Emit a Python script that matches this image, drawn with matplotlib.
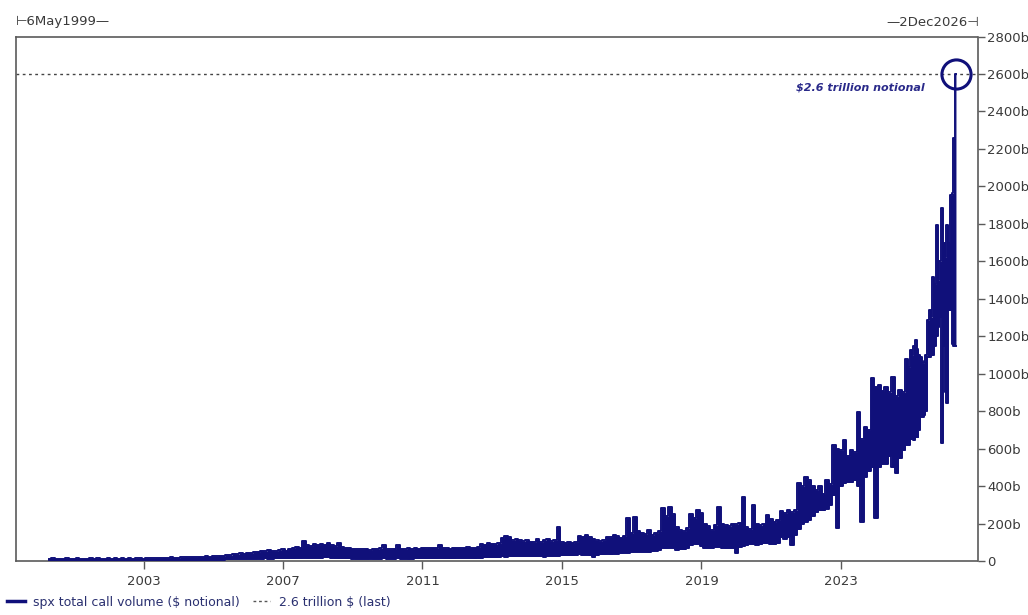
import numpy as np
import matplotlib
matplotlib.use("Agg")
import matplotlib.pyplot as plt
from matplotlib.lines import Line2D

# ---------------- data (billions of $ notional) ----------------
# The daily series is drawn as its period high (upper) and period low (lower),
# sampled every 0.1 year from 2000.3, then every 0.05 year at the end.
grid_start = 2000.3
grid_step = 0.1
upper_2000_2010 = [
    12, 14, 11, 13, 12, 15, 12, 13, 14, 12,
    13, 12, 15, 12, 14, 13, 12, 15, 13, 14,
    12, 14, 13, 16, 13, 14, 15, 13, 16, 15,
    15, 17, 16, 18, 17, 19, 18, 17, 19, 20,
    20, 22, 21, 24, 22, 25, 24, 26, 25, 28,
    28, 32, 30, 38, 35, 42, 40, 45, 43, 48,
    50, 55, 52, 60, 55, 52, 58, 62, 56, 65,
    70, 75, 72, 108, 85, 80, 90, 85, 92, 88,
    95, 85, 80, 96, 75, 70, 68, 65, 63, 62,
    62, 66, 60, 64, 62, 68, 85, 64, 62, 66,
]
lower_2000_2010 = [
    3, 4, 3, 4, 3, 4, 3, 4, 3, 4,
    4, 3, 4, 3, 4, 3, 4, 3, 4, 4,
    4, 3, 4, 4, 4, 5, 4, 4, 5, 5,
    5, 4, 5, 5, 5, 5, 6, 5, 6, 6,
    6, 5, 6, 6, 7, 7, 7, 7, 8, 8,
    8, 9, 9, 10, 10, 11, 11, 12, 12, 12,
    13, 12, 14, 13, 13, 14, 14, 15, 15, 15,
    15, 16, 16, 18, 17, 17, 18, 18, 18, 19,
    20, 18, 16, 15, 15, 14, 14, 13, 12, 12,
    12, 12, 13, 12, 12, 13, 14, 13, 13, 13,
]
upper_2010_2020 = [
    85, 66, 62, 68, 64, 70, 66, 72, 68, 70,
    72, 70, 85, 70, 68, 66, 72, 70, 68, 72,
    74, 70, 72, 75, 90, 88, 96, 92, 90, 94,
    125, 135, 128, 110, 118, 112, 105, 110, 104, 100,
    115, 100, 110, 120, 105, 110, 180, 100, 98, 102,
    98, 100, 135, 130, 140, 128, 120, 110, 106, 110,
    130, 126, 140, 132, 125, 135, 229, 150, 236, 160,
    150, 145, 165, 140, 150, 160, 283, 240, 290, 250,
    180, 165, 160, 175, 250, 230, 272, 255, 200, 185,
    165, 190, 290, 200, 190, 185, 200, 195, 205, 343,
]
lower_2010_2020 = [
    14, 13, 13, 12, 13, 14, 14, 15, 14, 15,
    15, 15, 16, 15, 15, 14, 15, 16, 16, 16,
    16, 16, 15, 17, 18, 19, 20, 20, 20, 21,
    25, 24, 25, 25, 26, 25, 25, 26, 25, 25,
    26, 25, 24, 26, 26, 28, 28, 30, 30, 30,
    30, 32, 35, 34, 34, 30, 20, 30, 35, 36,
    38, 36, 40, 40, 42, 45, 45, 48, 50, 50,
    50, 50, 48, 52, 55, 60, 70, 70, 72, 70,
    60, 62, 62, 70, 85, 90, 90, 80, 70, 70,
    72, 75, 75, 72, 70, 70, 70, 43, 75, 80,
]
upper_2020_2025 = [
    180, 170, 299, 200, 190, 200, 245, 225, 210, 220,
    265, 255, 272, 260, 270, 416, 400, 450, 430, 400,
    380, 400, 360, 430, 410, 620, 600, 590, 645, 560,
    590, 580, 796, 650, 714, 700, 976, 930, 940, 910,
    928, 900, 983, 880, 912, 900, 1080,
]
lower_2020_2025 = [
    85, 90, 90, 88, 90, 95, 95, 92, 90, 95,
    130, 120, 130, 85, 140, 170, 200, 210, 220, 240,
    260, 270, 270, 280, 300, 350, 176, 400, 416, 420,
    420, 430, 400, 210, 450, 480, 500, 229, 500, 520,
    520, 560, 500, 469, 550, 592, 620,
]
tail_dates = [2024.95, 2025.0, 2025.05, 2025.1, 2025.15, 2025.2, 2025.25, 2025.3,
              2025.35, 2025.4, 2025.45, 2025.5, 2025.55, 2025.6, 2025.65, 2025.7,
              2025.75, 2025.8, 2025.85, 2025.9, 2025.95, 2026.0, 2026.05, 2026.1,
              2026.15, 2026.2, 2026.25, 2026.3]
tail_upper = [1035, 1125, 1100, 1150, 1179, 1130, 1100, 1088,
              1056, 1070, 1100, 1285, 1339, 1300, 1517, 1480,
              1792, 1500, 1600, 1883, 1700, 1623, 1792, 1700,
              1952, 1963, 2260, 2600]
tail_lower = [620, 650, 650, 645, 660, 660, 700, 768,
              770, 780, 800, 1088, 1088, 1100, 1100, 1150,
              1200, 1250, 1300, 629, 1150, 900, 843, 1339,
              1339, 1160, 1150, 1150]
last_value = 2600
y_ticks = [0, 200, 400, 600, 800, 1000, 1200, 1400, 1600, 1800, 2000, 2200, 2400, 2600, 2800]
x_ticks = [2003, 2007, 2011, 2015, 2019, 2023]
x_start = 1999 + 125 / 365   # 6May1999
x_end = 2026 + 335 / 365     # 2Dec2026

upper = np.array(upper_2000_2010 + upper_2010_2020 + upper_2020_2025 + tail_upper, dtype=float)
lower = np.array(lower_2000_2010 + lower_2010_2020 + lower_2020_2025 + tail_lower, dtype=float)
n_grid = len(upper_2000_2010) + len(upper_2010_2020) + len(upper_2020_2025)
dates = np.concatenate([grid_start + grid_step * np.arange(n_grid), np.array(tail_dates)])

# ---------------- style ----------------
NAVY = "#10107a"
GRAY = "#5a5a5a"
TXT = "#3a3a3a"
plt.rcParams['font.family'] = ['DejaVu Sans']

fig = plt.figure(figsize=(10.28, 6.15), dpi=100)
ax = fig.add_axes([16 / 1028, 54 / 615, (977.5 - 16) / 1028, (561 - 36.5) / 615])

ax.fill_between(dates, lower, upper, step='mid', color=NAVY, lw=0, zorder=3)
ax.plot(dates, upper, drawstyle='steps-mid', color=NAVY, lw=1.4, zorder=3)
ax.plot(dates, lower, drawstyle='steps-mid', color=NAVY, lw=1.4, zorder=3)
ax.axhline(last_value, color="#444444", lw=1.0, ls=(0, (2, 2.5)), zorder=2)
ax.plot([dates[-1]], [upper[-1]], 'o', ms=21, mfc='none', mec=NAVY, mew=2.2, zorder=4)
ax.text(dates[-1] - 0.9, last_value - 45, r"\$2.6 trillion notional", ha='right', va='top',
        fontsize=8, fontweight='bold', fontstyle='italic', color="#2a2a8a")

ax.set_xlim(x_start, x_end)
ax.set_ylim(0, 2800)
ax.set_xticks(x_ticks)
ax.set_xticklabels([str(t) for t in x_ticks])
ax.set_yticks(y_ticks)
ax.set_yticklabels(["0" if t == 0 else f"{t}b" for t in y_ticks])
ax.yaxis.tick_right()
ax.tick_params(axis='y', direction='out', length=5, width=1, color=GRAY, labelsize=9.5,
               labelcolor=TXT, pad=2)
ax.tick_params(axis='x', direction='out', length=6, width=1, color=GRAY, labelsize=9.5,
               labelcolor=TXT, pad=4)
for s in ax.spines.values():
    s.set_color(GRAY)
    s.set_linewidth(1.2)

fig.text(16 / 1028, 1 - 22 / 615, "\u22a26May1999\u2014", ha='left', va='center',
         fontsize=9.5, color=TXT)
fig.text(979 / 1028, 1 - 22 / 615, "\u20142Dec2026\u22a3", ha='right', va='center',
         fontsize=9.5, color=TXT)

handles = [Line2D([], [], color=NAVY, lw=2.5),
           Line2D([], [], color="#555555", lw=1.0, ls=(0, (2, 2)))]
labels = [r"spx total call volume (\$ notional)", r"2.6 trillion \$ (last)"]
fig.legend(handles, labels, loc='lower left', bbox_to_anchor=(-0.004, -0.008), ncol=2,
           frameon=False, fontsize=9, handlelength=1.4, handletextpad=0.7,
           columnspacing=1.0, labelcolor="#2a3070")

fig.savefig("out.png", dpi=100)
